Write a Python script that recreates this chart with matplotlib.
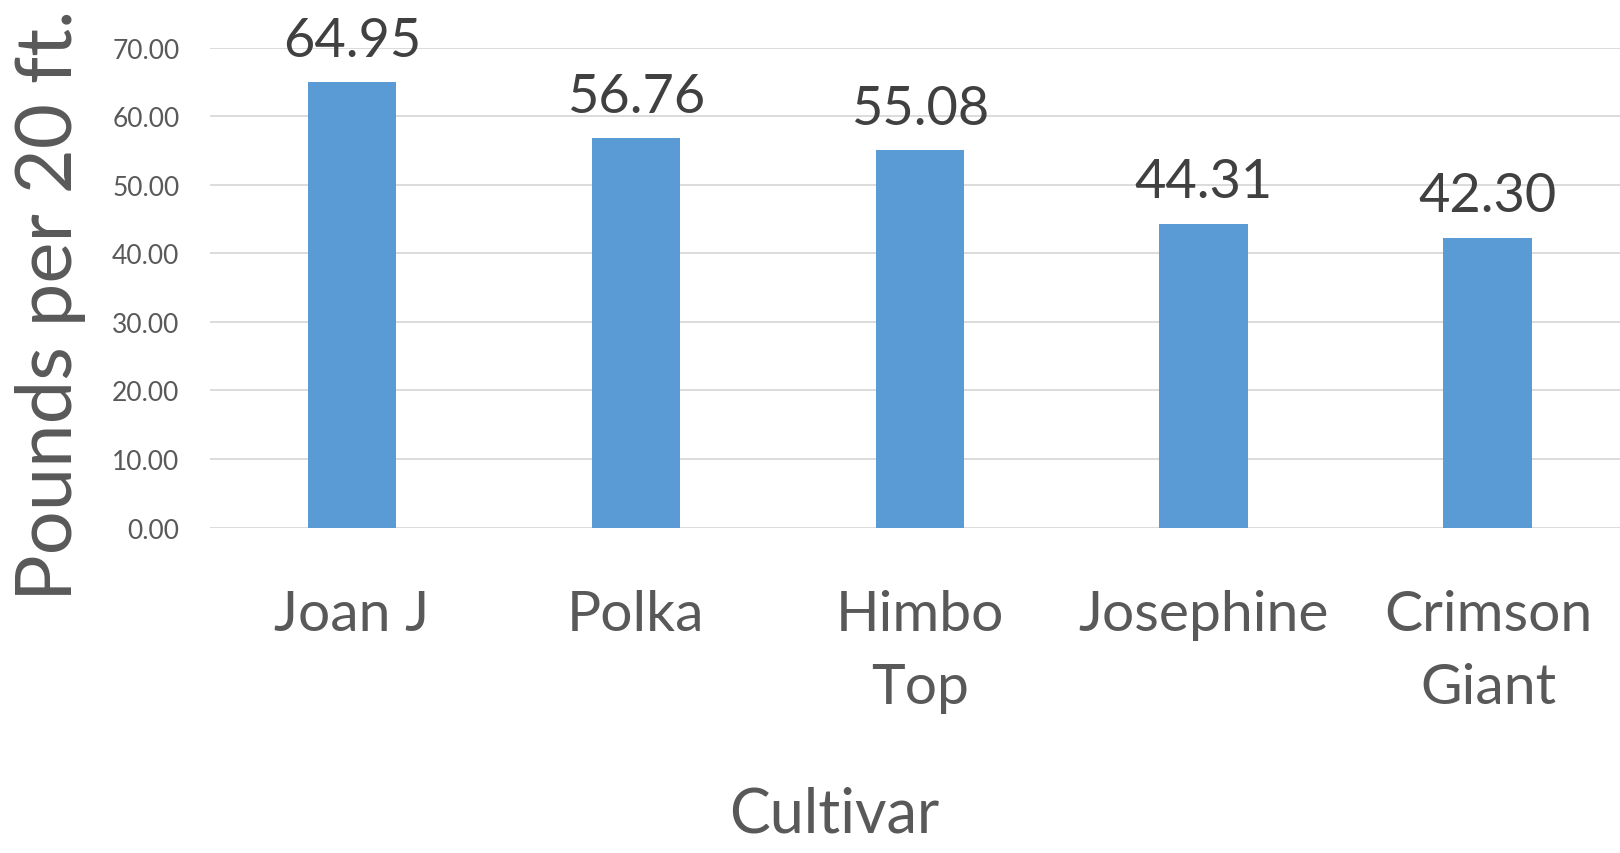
import matplotlib.pyplot as plt

plt.rcParams['font.family'] = ['Lato', 'DejaVu Sans']

cultivars = ['Joan J', 'Polka', 'Himbo\nTop', 'Josephine', 'Crimson\nGiant']
pounds = [64.95, 56.76, 55.08, 44.31, 42.30]
yticks = [0, 10, 20, 30, 40, 50, 60, 70]

fig = plt.figure(figsize=(16.2, 8.54), dpi=100)
ax = fig.add_axes([0.1296, 0.381, 0.8704, 0.562])

x = range(len(cultivars))
bars = ax.bar(x, pounds, width=0.313, color='#5B9BD5', zorder=3)

# value labels above bars
for b, v in zip(bars, pounds):
    ax.annotate('%.2f' % v, (b.get_x() + b.get_width() / 2, v),
                xytext=(0, 19), textcoords='offset points',
                ha='center', va='baseline', fontsize=39, color='#404040')

ax.set_ylim(0, 70)
ax.set_xlim(-0.5, 4.465)
ax.set_yticks(yticks)
ax.set_yticklabels(['%.2f' % t for t in yticks], fontsize=19, color='#595959')
ax.set_xticks(list(x))
ax.set_xticklabels(cultivars, fontsize=41, color='#595959', linespacing=1.55)
ax.tick_params(axis='y', length=0, pad=22)
ax.tick_params(axis='x', length=0, pad=44)
ax.grid(axis='y', color='#D9D9D9', linewidth=1.3, zorder=0)
for s in ax.spines.values():
    s.set_visible(False)

fig.text(0.031, 0.643, 'Pounds per 20 ft.', rotation=90, fontsize=56,
         color='#595959', ha='center', va='center')
fig.text(0.515, 0.012, 'Cultivar', fontsize=44, color='#595959',
         ha='center', va='bottom')

fig.savefig('out.png', dpi=100)
